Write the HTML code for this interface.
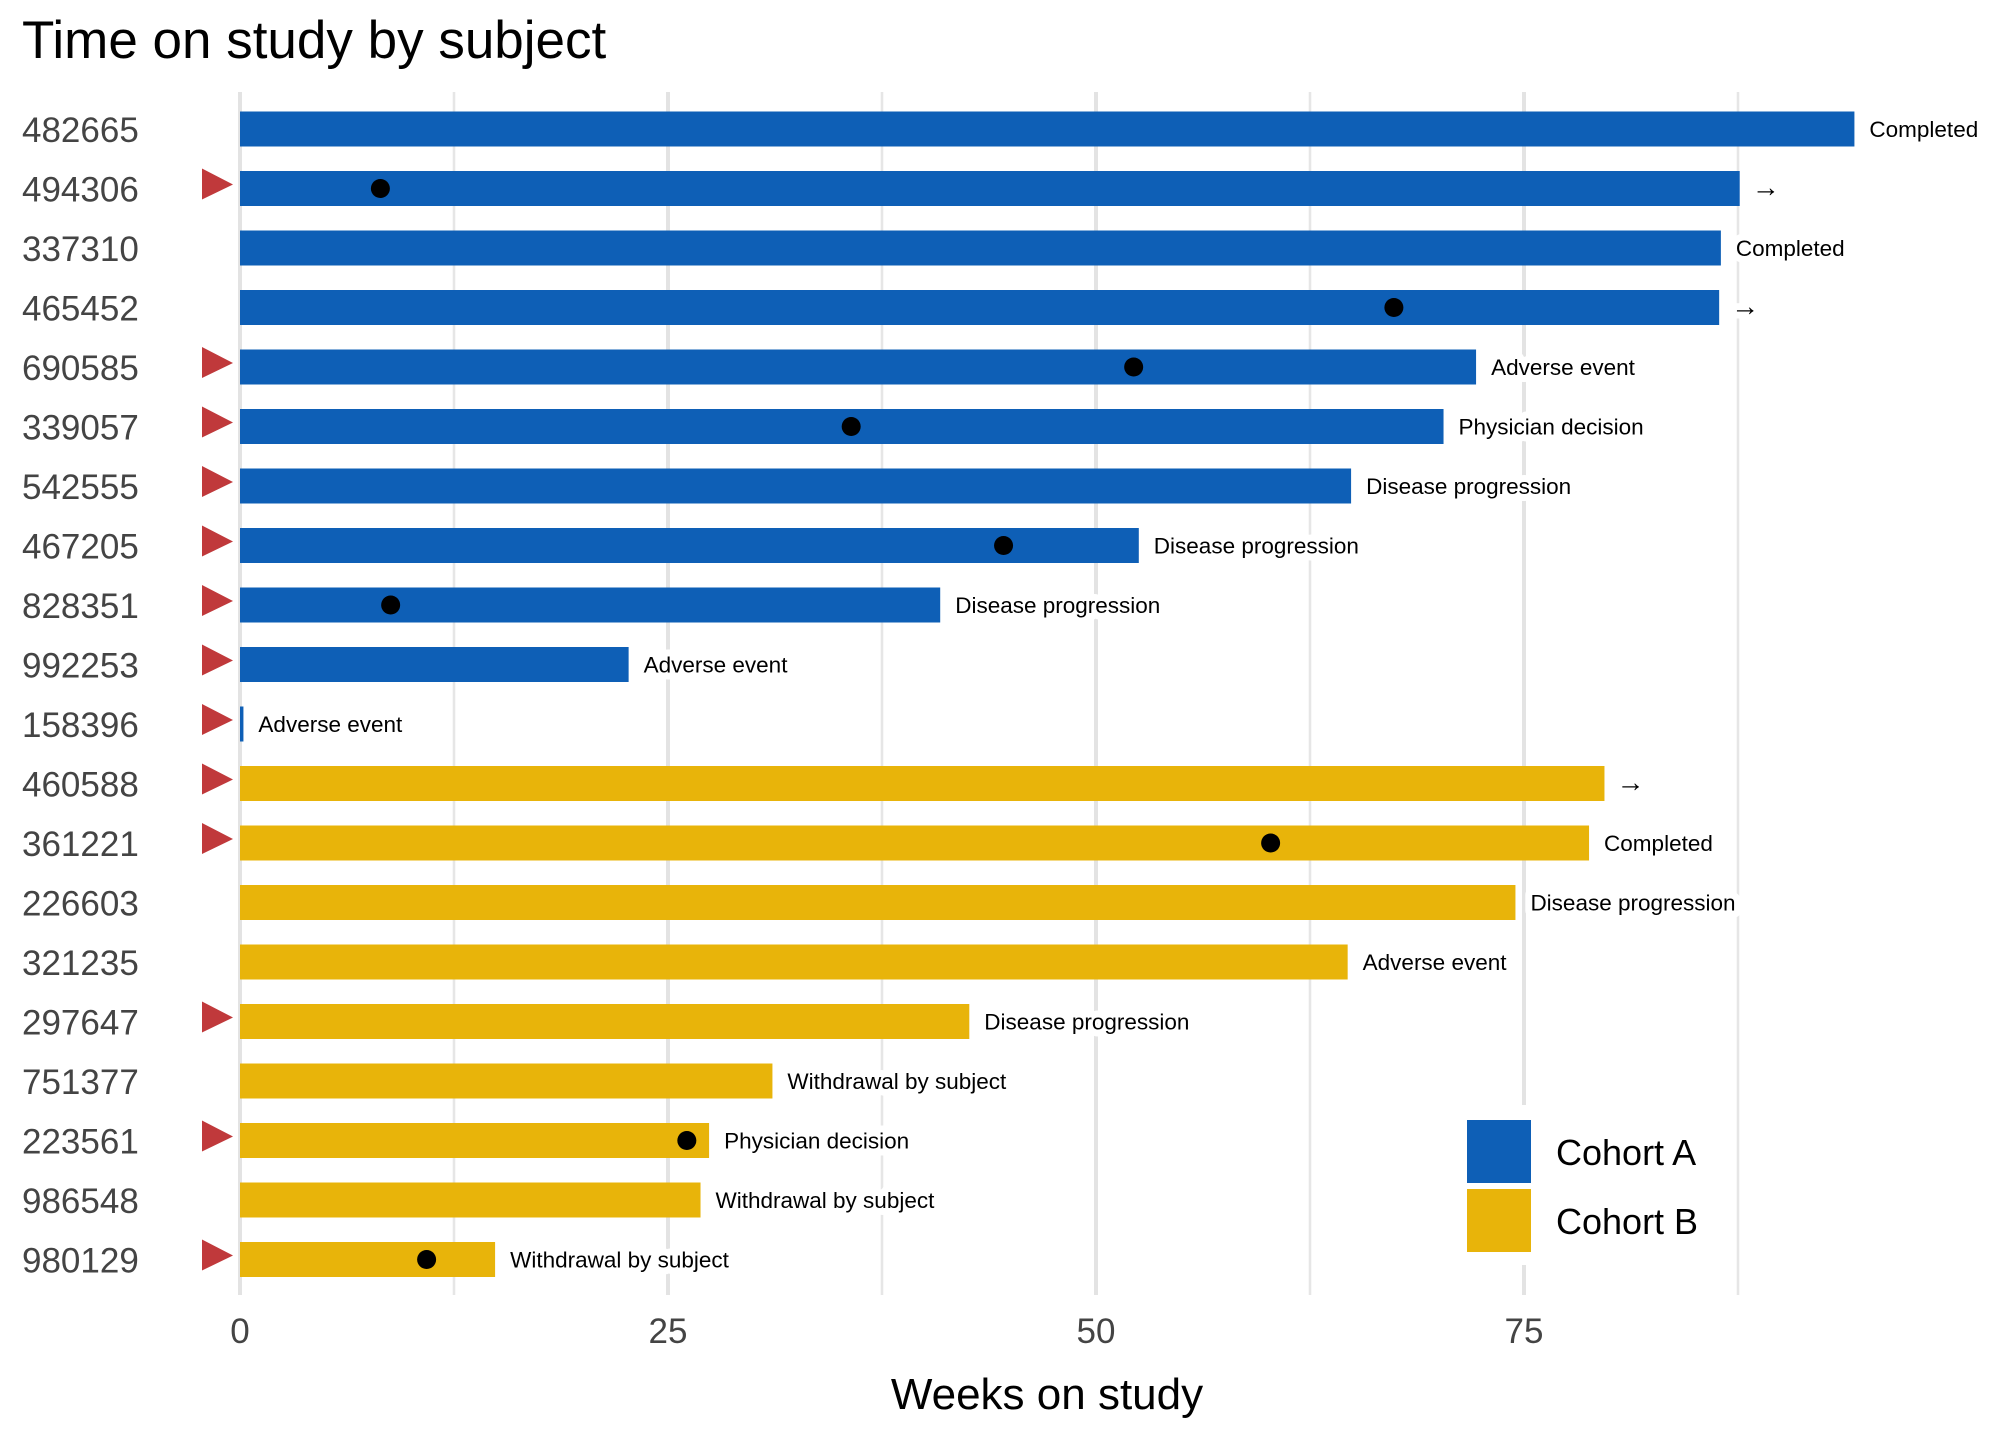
<!DOCTYPE html>
<html><head><meta charset="utf-8"><style>
html,body{margin:0;padding:0;background:#fff;}
svg{display:block;font-family:"Liberation Sans",Arial,sans-serif;}
</style></head><body>
<svg id="chart" width="2016" height="1440" viewBox="0 0 2016 1440">
<text x="22" y="58" font-size="53" fill="#000">Time on study by subject</text>
<g id="grid"></g>
<g id="bars"></g>
<g id="ylabels"></g>
<g id="xticks"></g>
<text x="1047" y="1409" font-size="44" text-anchor="middle" fill="#000">Weeks on study</text>
<g>
<rect x="1452" y="1105" width="250" height="160" fill="#fff"></rect>
<rect x="1467" y="1120" width="64" height="63" fill="#0e5fb6"></rect>
<text x="1556" y="1165" font-size="36" fill="#000">Cohort A</text>
<rect x="1467" y="1189" width="64" height="63" fill="#e8b40a"></rect>
<text x="1556" y="1234" font-size="36" fill="#000">Cohort B</text>
</g>
</svg>
<script>
const subjects = ["482665","494306","337310","465452","690585","339057","542555","467205","828351","992253","158396","460588","361221","226603","321235","297647","751377","223561","986548","980129"];
const weeks = [94.3,87.6,86.5,86.4,72.2,70.3,64.9,52.5,40.9,22.7,0.2,79.7,78.8,74.5,64.7,42.6,31.1,27.4,26.9,14.9];
const cohorts = ["A","A","A","A","A","A","A","A","A","A","A","B","B","B","B","B","B","B","B","B"];
const outcomes = ["Completed","→","Completed","→","Adverse event","Physician decision","Disease progression","Disease progression","Disease progression","Adverse event","Adverse event","→","Completed","Disease progression","Adverse event","Disease progression","Withdrawal by subject","Physician decision","Withdrawal by subject","Withdrawal by subject"];
const events = [null,8.2,null,67.4,52.2,35.7,null,44.6,8.8,null,null,null,60.2,null,null,null,null,26.1,null,10.9];
const flags = [0,1,0,0,1,1,1,1,1,1,1,1,1,0,0,1,0,1,0,1];
const xTicks = [0,25,50,75];
const xMinor = [12.5,37.5,62.5,87.5];

const NS="http://www.w3.org/2000/svg";
const X0=240, PX=17.12, Y0=129, STEP=59.5, BH=35;
const xs=v=>X0+v*PX;
const ys=i=>Y0+i*STEP;
function mk(tag,attrs,parent){const e=document.createElementNS(NS,tag);for(const k in attrs)e.setAttribute(k,attrs[k]);parent.appendChild(e);return e;}
const grid=document.getElementById('grid'),bars=document.getElementById('bars'),yl=document.getElementById('ylabels'),xt=document.getElementById('xticks');
xMinor.forEach(v=>{const l=mk('line',{x1:xs(v),x2:xs(v),y1:92,y2:1295,stroke:'#e6e6e6','stroke-width':2.5},grid);

});
xTicks.forEach(v=>{const l=mk('line',{x1:xs(v),x2:xs(v),y1:92,y2:1295,stroke:'#e3e3e3','stroke-width':4},grid);


const t=mk('text',{x:xs(v),y:1343,'font-size':35,'text-anchor':'middle',fill:'#444'},xt);t.textContent=v;

});
subjects.forEach((s,i)=>{
 const cy=ys(i);
 const t=mk('text',{x:22,y:cy+13,'font-size':35,fill:'#444'},yl);t.textContent=s;
 
 
 const w=Math.max(weeks[i]*PX,3);
 const r=mk('rect',{x:X0,y:cy-BH/2,width:w,height:BH,fill:cohorts[i]==="A"?'#0e5fb6':'#e8b40a'},bars);
 
 
 const isArrow=outcomes[i]==="→";
 const lx=xs(weeks[i])+(isArrow?12:15);
 const lt=mk('text',{x:lx,y:cy+8,'font-size':isArrow?28:22.5,fill:'#000',stroke:'#fff','stroke-width':14,'paint-order':'stroke','stroke-linejoin':'round'},bars);
 lt.textContent=outcomes[i];
 
 
 if(events[i]!==null){const c=mk('circle',{cx:xs(events[i]),cy:cy,r:9.5,fill:'#000'},bars);
 
 }
 if(flags[i]){const p=mk('polygon',{points:`202,${cy-20} 233,${cy-4} 202,${cy+11}`,fill:'#c0393b'},bars);
 
 }
});
</script>
</body></html>
